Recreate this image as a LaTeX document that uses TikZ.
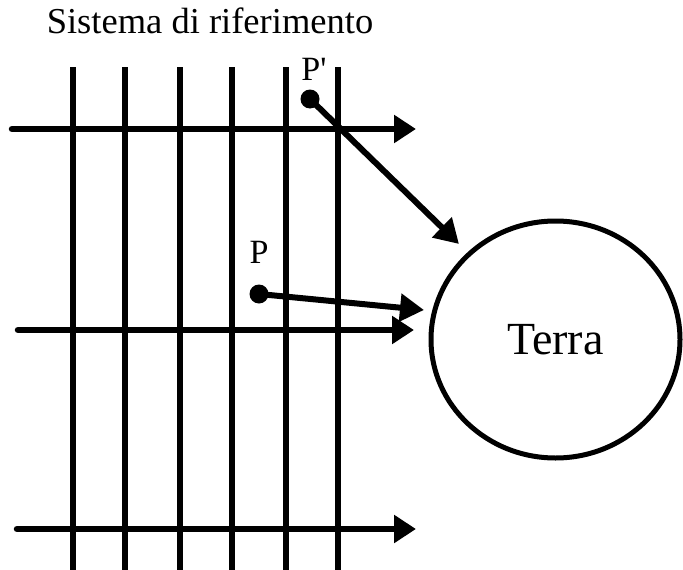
\documentclass[tikz,border=0pt]{standalone}
\usepackage{fontspec}
\setmainfont{Liberation Serif}
\usetikzlibrary{arrows.meta,shapes.geometric}
\begin{document}
\begin{tikzpicture}[x=1pt,y=-1pt,
  gridline/.style={line width=6.5pt},
  axis/.style={line width=6.5pt,line cap=round,-{Triangle[length=22pt,width=27pt]}},
  pull/.style={line width=6pt,-{Triangle[length=24pt,width=27pt]}},
  mass/.style={circle,fill=black,inner sep=0pt,minimum size=19pt},
  lbl/.style={font=\fontsize{34}{40}\selectfont,inner sep=0pt}]
\useasboundingbox (0,0) rectangle (683,570);

% title
\node[font=\fontsize{36.5}{42}\selectfont,anchor=base,inner sep=0pt] (title) at (210,33) {Sistema di riferimento};

% vertical grid lines
\foreach \gx [count=\i] in {73,125,180,232,286,338}
  \draw[gridline] (\gx,67) coordinate (v\i top) -- (\gx,570) coordinate (v\i bot);

% horizontal axes
\coordinate (h1a) at (12,129);  \coordinate (h1b) at (416,129);
\coordinate (h2a) at (18,330);  \coordinate (h2b) at (414,330);
\coordinate (h3a) at (17,529);  \coordinate (h3b) at (416,529);
\draw[axis] (h1a) -- (h1b);
\draw[axis] (h2a) -- (h2b);
\draw[axis] (h3a) -- (h3b);

% Earth
\node[ellipse,draw,line width=5pt,minimum width=249pt,minimum height=237pt,inner sep=0pt,
      font=\fontsize{46}{52}\selectfont] (earth) at (555.5,339.5) {Terra};

% points and their pulls toward the Earth
\node[mass] (pp) at (310,99) {};
\node[mass] (p) at (259,294) {};
\node[lbl,anchor=base] (pplbl) at (314,80) {P\textquotesingle};
\node[lbl,anchor=base] (plbl) at (259,263) {P};
\coordinate (ppend) at (459,244);
\coordinate (pend) at (424,310);
\draw[pull] (pp.center) -- (ppend);
\draw[pull] (p.center) -- (pend);
\end{tikzpicture}
\end{document}
